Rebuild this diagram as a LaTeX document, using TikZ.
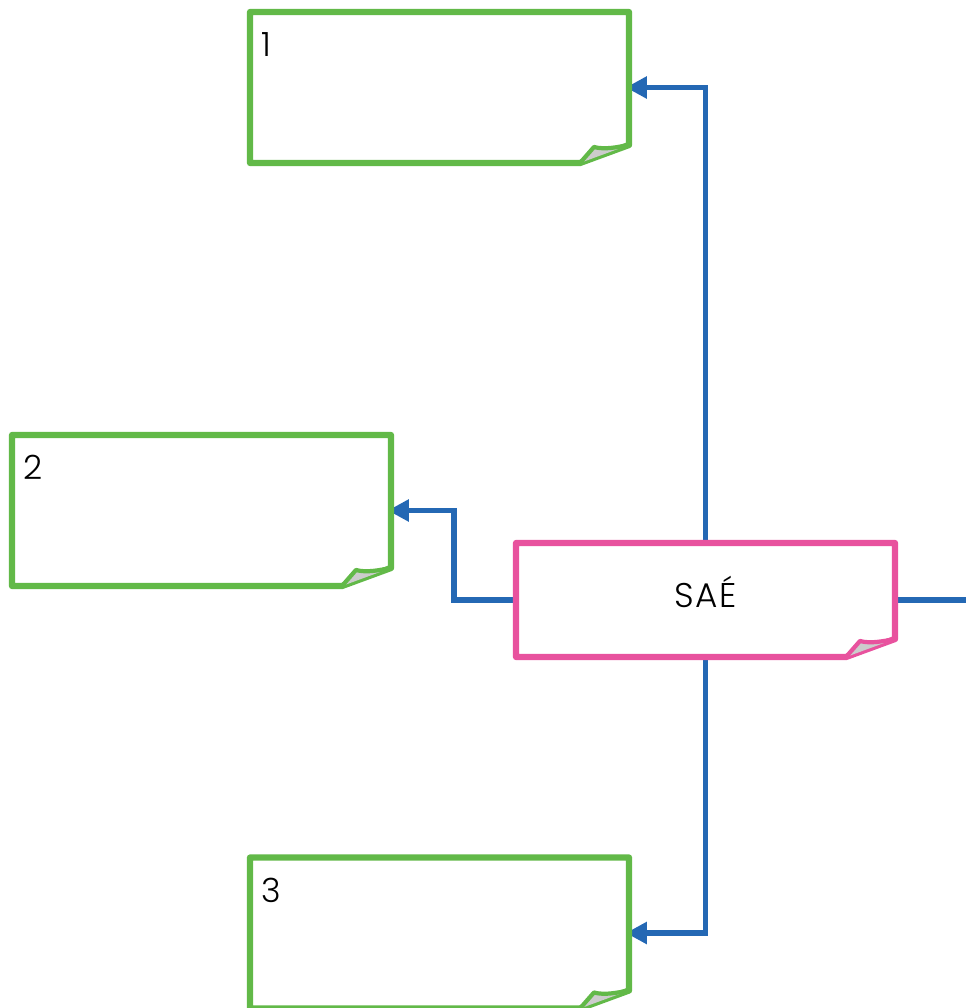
\documentclass[tikz,border=0pt]{standalone}
\usepackage{fontspec}
\setmainfont{Poppins}[UprightFont=* Light]
\usepackage{tikz}
\usetikzlibrary{arrows.meta, positioning, calc}

\definecolor{notegreen}{RGB}{98,185,72}
\definecolor{notepink}{RGB}{232,82,158}
\definecolor{linkblue}{RGB}{36,104,180}

% outline of a note with a folded lower right corner
\newcommand{\dogear}[2]{
    \draw[#2, line width=3.6pt, line join=round]
        (#1.north west) -- (#1.north east) -- ($(#1.south east)+(0,-18)$)
        -- ($(#1.south east)+(-49,0)$) -- (#1.south west) -- cycle;
    \filldraw[#2, fill=black!20, line width=2.4pt, line join=round]
        ($(#1.south east)+(-49,0)$) -- ($(#1.south east)+(-35,-16)$)
        .. controls ($(#1.south east)+(-24,-13)$) and ($(#1.south east)+(-11,-16)$)
        .. ($(#1.south east)+(0,-18)$);
}

\begin{document}
\begin{tikzpicture}[
        x=0.02cm, y=-0.02cm,
        note/.style={
            rectangle,
            minimum width=7.58cm,
            minimum height=3.02cm,
            inner sep=0pt,
            outer sep=0pt,
            font=\fontsize{19.5}{21}\selectfont\addfontfeatures{LetterSpace=5}
        },
        num/.style={
            label={[anchor=north west, inner sep=0pt, xshift=0.23cm, yshift=-0.4cm,
                font=\fontsize{19}{21}\selectfont]north west:#1}
        },
        link/.style={draw=linkblue, line width=3pt},
        arrow/.style={link, shorten >=-1.8pt, -{Triangle[length=12pt, width=12pt]}}
    ]
        \useasboundingbox (0,0) rectangle (966,1008);

        % nodes
        \node [note, num=1] (one) at (439.5,87.5) {};
        \node [note, num=2] (two) at (201.5,510.5) {};
        \node [note, num=3] (three) at (439.5,933) {};
        \node [note, minimum height=2.28cm] (sae) at (705.5,600)
            {\raisebox{-4pt}[0pt][0pt]{SAÉ}};
        \coordinate (exit) at (966,600);

        % paths
        \path [arrow] (sae.north) |- (one.east);
        \path [arrow] (sae.west) -- ++(-62,0) |- (two.east);
        \path [arrow] (sae.south) |- (three.east);
        \path [link] (sae.east) -- (exit);

        % outlines
        \dogear{one}{notegreen}
        \dogear{two}{notegreen}
        \dogear{three}{notegreen}
        \dogear{sae}{notepink}

    \end{tikzpicture}
\end{document}
